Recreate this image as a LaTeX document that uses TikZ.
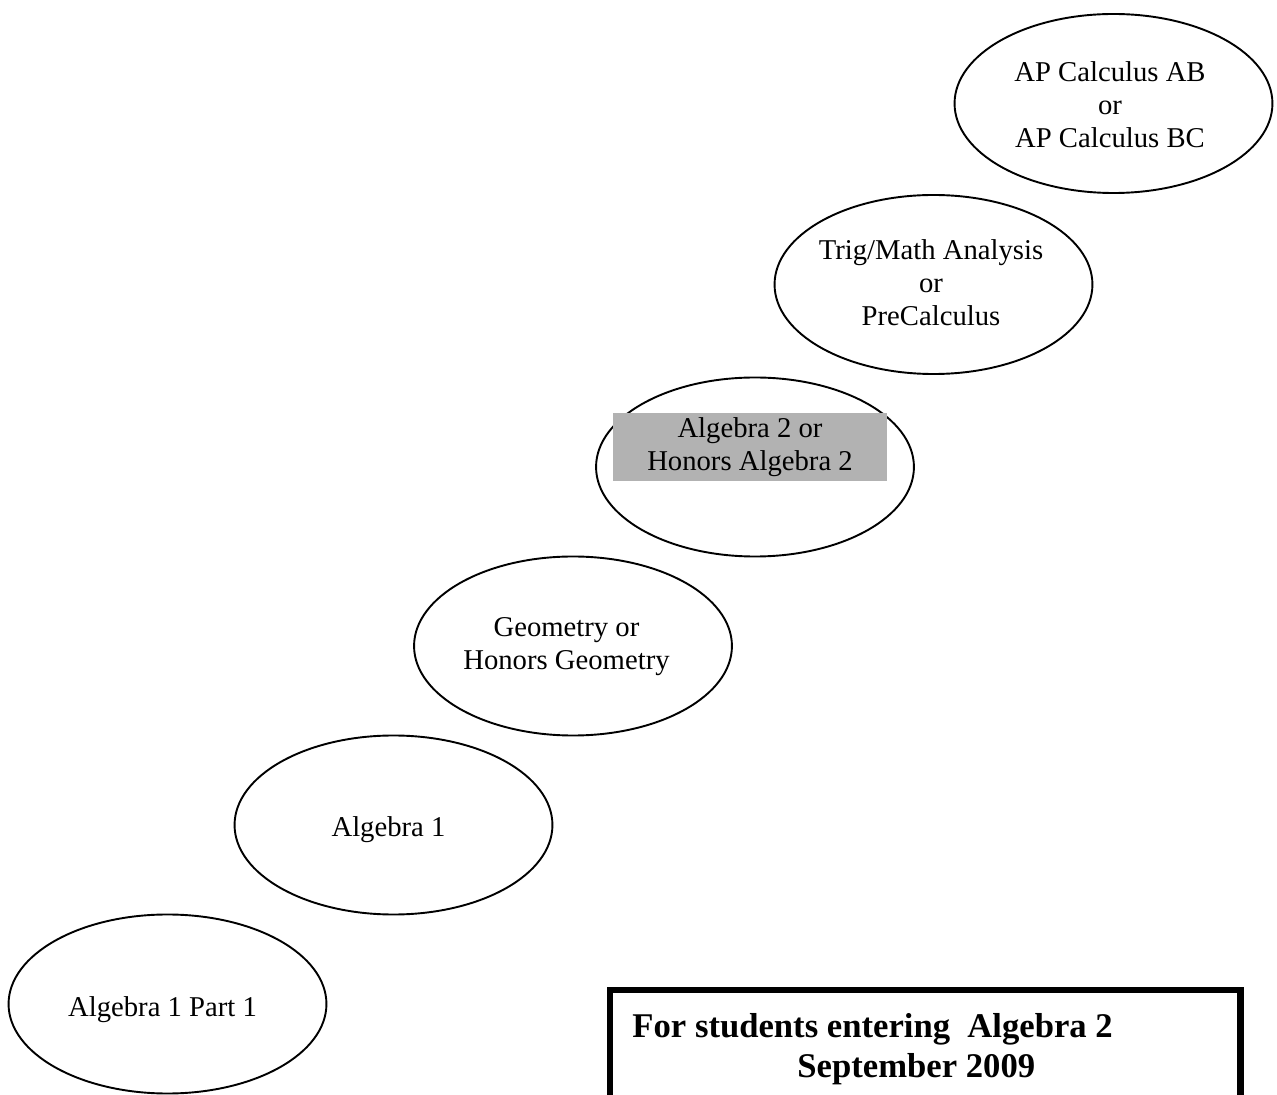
\documentclass[tikz,border=0pt]{standalone}
\usepackage{fontspec}
\setmainfont{Liberation Serif}
\usetikzlibrary{positioning,shapes}

\begin{document}
\begin{tikzpicture}[
    x=0.4184pt, y=-0.4184pt,
    course/.style={ellipse, draw=black, line width=0.8pt, minimum width=133pt, minimum height=74.9pt, inner sep=0pt},
    title/.style={align=center, inner sep=0pt, font=\fontsize{12pt}{13.8pt}\selectfont},
    shaded/.style={fill=black!30, minimum width=114.6pt, minimum height=28.5pt},
    notice/.style={inner sep=0pt, anchor=base west, font=\fontsize{14.5pt}{16.5pt}\selectfont\bfseries}
]
    \useasboundingbox (0,0) rectangle (1277,1095);

    % the steps
    \node[course] (alg1p1) at (167.5,1004) {};
    \node[course] (alg1) at (393.5,825) {};
    \node[course] (geo) at (573,646) {};
    \node[course] (alg2) at (755,467) {};
    \node[course] (trig) at (933.5,284.5) {};
    \node[course] (apcalc) at (1113.5,103.5) {};

    \node[title] (alg1p1-txt) at (162.5,1010) {Algebra 1 Part 1};
    \node[title] (alg1-txt) at (388.5,830) {Algebra 1};
    \node[title] (geo-txt) at (566.5,646.5) {Geometry or \\ Honors Geometry};
    \node[title, shaded] (alg2-txt) at (750,447) {Algebra 2 or \\ Honors Algebra 2};
    \node[title] (trig-txt) at (931,283) {Trig/Math Analysis \\ or \\ PreCalculus};
    \node[title] (apcalc-txt) at (1110,105) {AP Calculus AB \\ or \\ AP Calculus BC};

    % notice box
    \draw[line width=2.9pt] (610,1110) -- (610,990) -- (1240.5,990) -- (1240.5,1110);
    \node[notice] (note1) at (632,1038) {For students entering\ \ Algebra 2};
    \node[notice] (note2) at (797,1077) {September 2009};
\end{tikzpicture}
\end{document}
